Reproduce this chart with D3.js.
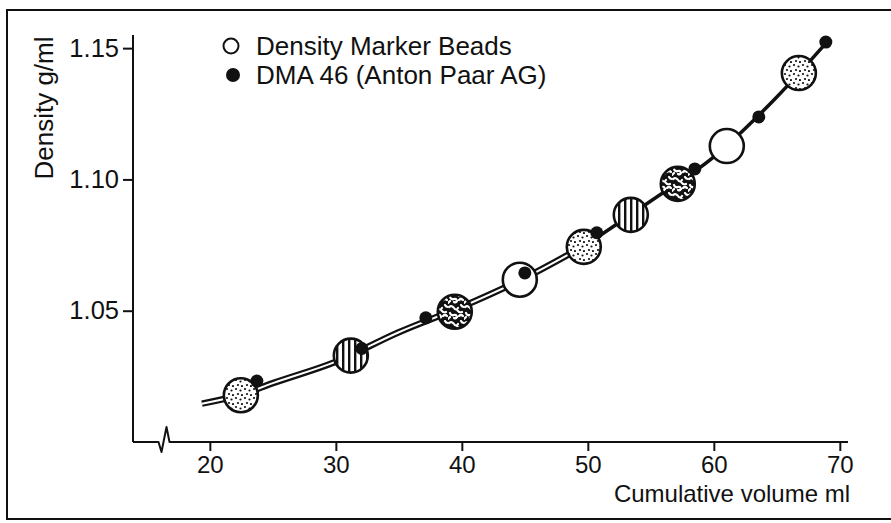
<!DOCTYPE html>
<html>
<head>
<meta charset="utf-8">
<script src="https://cdn.jsdelivr.net/npm/d3@7"></script>
<style>
body { margin: 0; background: #fff; }
svg { display: block; font-family: "Liberation Sans", Arial, sans-serif; }
</style>
</head>
<body>
<svg id="chart" width="891" height="523"></svg>
<script>
// density marker beads
var beadVol = [22.46, 31.19, 39.44, 44.6, 49.68, 53.41, 57.14, 61.03, 66.75]
var beadDen = [1.0178, 1.0329, 1.0496, 1.0618, 1.0743, 1.0865, 1.0983, 1.1127, 1.1405]
var beadFill = ["dots", "stripes", "mottle", "open", "dots", "stripes", "mottle", "open", "dots"]

// DMA 46 readings
var dmaVol = [23.73, 32.06, 37.14, 45.0, 50.71, 58.49, 63.57, 68.89]
var dmaDen = [1.0232, 1.0356, 1.0473, 1.0644, 1.0797, 1.1040, 1.1238, 1.1523]

// drawn calibration curve
var fitVol = [19.37, 22.46, 25, 30, 35, 40, 45, 50, 55, 60, 65, 68.97]
var fitDen = [1.0146, 1.0180, 1.0224, 1.0306, 1.0418, 1.0515, 1.0625, 1.0755, 1.0918, 1.1086, 1.1314, 1.1523]

var xTicks = [20, 30, 40, 50, 60, 70]
var yTicks = [1.05, 1.10, 1.15]
var legendLabels = ["Density Marker Beads", "DMA 46 (Anton Paar AG)"]
var breakAt = 16.4

var svg = d3.select("#chart")

var x = d3.scaleLinear().domain([13.9, 70.65]).range([133, 848])
var y = d3.scaleLinear().domain([1.0, 1.155]).range([442, 35])

// frame
svg.append("rect")
    .attr("x", 7).attr("y", 10)
    .attr("width", 890).attr("height", 509)
    .attr("fill", "none").attr("stroke", "#111").attr("stroke-width", 2)

// fill patterns for the beads
var defs = svg.append("defs")

var pd = defs.append("pattern").attr("id", "dots")
    .attr("patternUnits", "userSpaceOnUse").attr("width", 9).attr("height", 9)
pd.append("rect").attr("width", 9).attr("height", 9).attr("fill", "#fff")
var dotPos = [[2, 2], [6.5, 3.5], [4, 7], [8, 8]]
dotPos.forEach(function (p) {
    pd.append("circle").attr("cx", p[0]).attr("cy", p[1]).attr("r", 1.1).attr("fill", "#111")
})

var ps = defs.append("pattern").attr("id", "stripes")
    .attr("patternUnits", "userSpaceOnUse").attr("width", 6).attr("height", 6)
ps.append("rect").attr("width", 6).attr("height", 6).attr("fill", "#fff")
ps.append("rect").attr("width", 2.4).attr("height", 6).attr("fill", "#111")

var pm = defs.append("pattern").attr("id", "mottle")
    .attr("patternUnits", "userSpaceOnUse").attr("width", 16).attr("height", 16)
pm.append("rect").attr("width", 16).attr("height", 16).attr("fill", "#111")
pm.append("path")
    .attr("d", "M1,3 q3,-2 5,1 t4,0 M9,6 q2,3 5,2 M2,9 q1,3 4,2 q2,-1 3,2 M11,12 q2,-2 4,0 M6,14 q2,1 3,-1 M13,1 q1,2 3,2 M0,15 l2,-2")
    .attr("fill", "none").attr("stroke", "#fff").attr("stroke-width", 2.2)
    .attr("stroke-linecap", "round")

// y axis
var yAxis = svg.append("g")
    .attr("transform", "translate(133,0)")
    .call(d3.axisLeft(y).tickValues(yTicks).tickSize(10).tickPadding(4).tickFormat(d3.format(".2f")))
yAxis.select(".domain").attr("d", "M0," + y(1.155) + "V" + y(1.0))
yAxis.selectAll("path, line").attr("stroke", "#111").attr("stroke-width", 2)
yAxis.selectAll("text")
    .attr("fill", "#111").style("font-size", "25.5px").style("font-family", "inherit")

// x axis with break
var xAxis = svg.append("g")
    .attr("transform", "translate(0,442)")
    .call(d3.axisBottom(x).tickValues(xTicks).tickSize(9).tickPadding(5))
var bx = x(breakAt)
xAxis.select(".domain")
    .attr("d", "M" + x.range()[0] + ",0H" + (bx - 6) + "L" + (bx - 3) + ",10L" + (bx + 2) + ",-15L" + (bx + 5) + ",0H" + x.range()[1])
    .attr("fill", "none").attr("stroke-linejoin", "round")
xAxis.selectAll("path, line").attr("stroke", "#111").attr("stroke-width", 2)
xAxis.selectAll("text")
    .attr("fill", "#111").style("font-size", "24px").style("font-family", "inherit")

// axis titles
svg.append("text")
    .attr("transform", "translate(44,108) rotate(-90)")
    .attr("text-anchor", "middle").attr("dominant-baseline", "central")
    .style("font-size", "26px").attr("fill", "#111")
    .text("Density g/ml")

svg.append("text")
    .attr("x", 850).attr("y", 502)
    .attr("text-anchor", "end")
    .style("font-size", "24px").attr("fill", "#111")
    .text("Cumulative volume ml")

// calibration curve: double line at the low end, single line above 50 ml
var fit = fitVol.map((v, i) => ({ v: v, d: fitDen[i] }))
var line = d3.line().x(d => x(d.v)).y(d => y(d.d)).curve(d3.curveMonotoneX)
var lowPart = fit.filter(d => d.v <= 50)
var highPart = fit.filter(d => d.v >= 50)

svg.append("path").attr("d", line(lowPart))
    .attr("fill", "none").attr("stroke", "#111").attr("stroke-width", 6.5)
svg.append("path").attr("d", line(lowPart))
    .attr("fill", "none").attr("stroke", "#fff").attr("stroke-width", 2)
svg.append("path").attr("d", line(highPart))
    .attr("fill", "none").attr("stroke", "#111").attr("stroke-width", 3.5)

// beads
var beads = beadVol.map((v, i) => ({ v: v, d: beadDen[i], f: beadFill[i] }))
svg.selectAll("circle.bead")
    .data(beads)
    .enter()
    .append("circle")
    .attr("class", "bead")
    .attr("cx", d => x(d.v))
    .attr("cy", d => y(d.d))
    .attr("r", 17)
    .attr("fill", d => d.f == "open" ? "#fff" : "url(#" + d.f + ")")
    .attr("stroke", "#111")
    .attr("stroke-width", 2.6)

// DMA points
var dma = dmaVol.map((v, i) => ({ v: v, d: dmaDen[i] }))
svg.selectAll("circle.dma")
    .data(dma)
    .enter()
    .append("circle")
    .attr("class", "dma")
    .attr("cx", d => x(d.v))
    .attr("cy", d => y(d.d))
    .attr("r", 6.5)
    .attr("fill", "#111")

// legend
var legend = svg.append("g").attr("transform", "translate(231,46)")
legend.append("circle").attr("cx", 0).attr("cy", 0).attr("r", 7.5)
    .attr("fill", "#fff").attr("stroke", "#111").attr("stroke-width", 2)
legend.append("circle").attr("cx", 2).attr("cy", 29).attr("r", 7)
    .attr("fill", "#111")
legend.selectAll("text")
    .data(legendLabels)
    .enter()
    .append("text")
    .attr("x", 25)
    .attr("y", (d, i) => i * 29)
    .attr("dominant-baseline", "central")
    .style("font-size", "26px")
    .attr("fill", "#111")
    .text(d => d)
</script>
</body>
</html>
